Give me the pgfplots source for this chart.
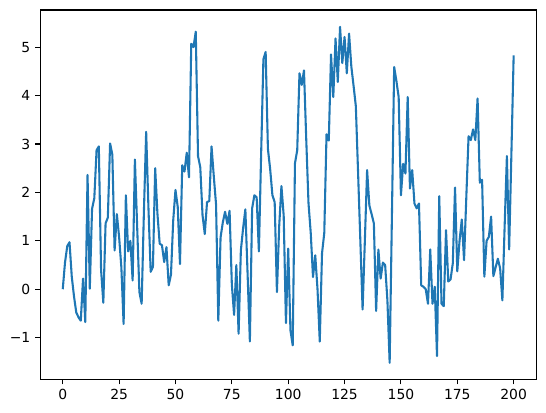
\documentclass[border=0pt]{standalone}
\usepackage{fontspec}
\setmainfont{DejaVu Sans}
\usepackage{pgfplots}
\pgfplotsset{compat=1.18}
\definecolor{mplblue}{HTML}{1F77B4}
\begin{document}
\begin{tikzpicture}
\begin{axis}[
  scale only axis,
  width=496bp, height=369.6bp,
  xmin=-10, xmax=210,
  ymin=-1.867, ymax=5.767,
  xtick={0,25,50,75,100,125,150,175,200},
  ytick={-1,0,1,2,3,4,5},
  yticklabels={−1,0,1,2,3,4,5},
  tick pos=left,
  tick align=outside,
  major tick length=4.86bp,
  tick style={black, line width=1.1bp},
  axis line style={black, line width=1.1bp},
  every tick label/.append style={font=\fontsize{13.9bp}{16bp}\selectfont},
  /pgf/number format/assume math mode=true,
  xticklabel style={inner sep=0pt, yshift=-4.86bp},
  yticklabel style={inner sep=0pt, xshift=-4.86bp},
  clip=true,
]
\addplot[mplblue, line width=2.08bp, line join=round] table[x=i, y=v] {
i v
0 0.00
1 0.55
2 0.89
3 0.97
4 0.26
5 -0.15
6 -0.48
7 -0.58
8 -0.65
9 0.22
10 -0.68
11 2.36
12 0.01
13 1.66
14 1.88
15 2.87
16 2.95
17 0.40
18 -0.28
19 1.36
20 1.48
21 3.01
22 2.78
23 0.80
24 1.55
25 1.08
26 0.45
27 -0.72
28 1.94
29 0.78
30 1.00
31 0.18
32 2.68
33 1.30
34 -0.06
35 -0.30
36 1.60
37 3.25
38 1.70
39 0.36
40 0.46
41 2.50
42 1.56
43 0.94
44 0.91
45 0.56
46 0.87
47 0.08
48 0.30
49 1.42
50 2.05
51 1.70
52 0.52
53 2.56
54 2.43
55 2.82
56 2.31
57 5.07
58 5.00
59 5.32
60 2.75
61 2.52
62 1.53
63 1.14
64 1.80
65 1.82
66 2.95
67 2.33
68 1.75
69 -0.65
70 1.07
71 1.38
72 1.60
73 1.35
74 1.62
75 0.10
76 -0.53
77 0.50
78 -0.92
79 0.80
80 1.26
81 1.65
82 0.30
83 -1.08
84 1.67
85 1.94
86 1.90
87 0.78
88 2.80
89 4.75
90 4.90
91 2.90
92 2.48
93 1.94
94 1.80
95 -0.06
96 1.30
97 2.13
98 1.52
99 -0.70
100 0.84
101 -0.85
102 -1.16
103 2.60
104 2.87
105 4.46
106 4.22
107 4.52
108 3.10
109 1.78
110 1.16
111 0.25
112 0.70
113 0.00
114 -1.08
115 0.74
116 1.16
117 3.20
118 3.07
119 4.85
120 3.97
121 5.18
122 4.28
123 5.42
124 4.67
125 5.21
126 4.46
127 5.28
128 4.60
129 4.20
130 3.78
131 2.40
132 1.00
133 -0.42
134 1.00
135 2.46
136 1.73
137 1.55
138 1.36
139 -0.45
140 0.82
141 0.22
142 0.55
143 0.50
144 -0.23
145 -1.52
146 1.50
147 4.59
148 4.30
149 3.97
150 1.94
151 2.59
152 2.39
153 3.97
154 2.08
155 2.46
156 1.77
157 1.67
158 1.77
159 0.08
160 0.05
161 0.00
162 -0.30
163 0.82
164 -0.30
165 0.05
166 -1.38
167 1.92
168 -0.30
169 -0.35
170 1.22
171 0.16
172 0.20
173 0.53
174 2.10
175 0.37
176 1.00
177 1.44
178 0.60
179 1.90
180 3.16
181 3.08
182 3.30
183 3.08
184 3.94
185 2.20
186 2.26
187 0.26
188 1.00
189 1.08
190 1.50
191 0.27
192 0.45
193 0.63
194 0.43
195 -0.23
196 1.30
197 2.75
198 0.82
199 2.80
200 4.83
};
\end{axis}
\path (current axis.south west) ++(-40.2bp,-33.4bp) coordinate (bbA);
\path (current axis.north east) ++(9.8bp,10bp) coordinate (bbB);
\path (bbA) rectangle (bbB);
\end{tikzpicture}
\end{document}
